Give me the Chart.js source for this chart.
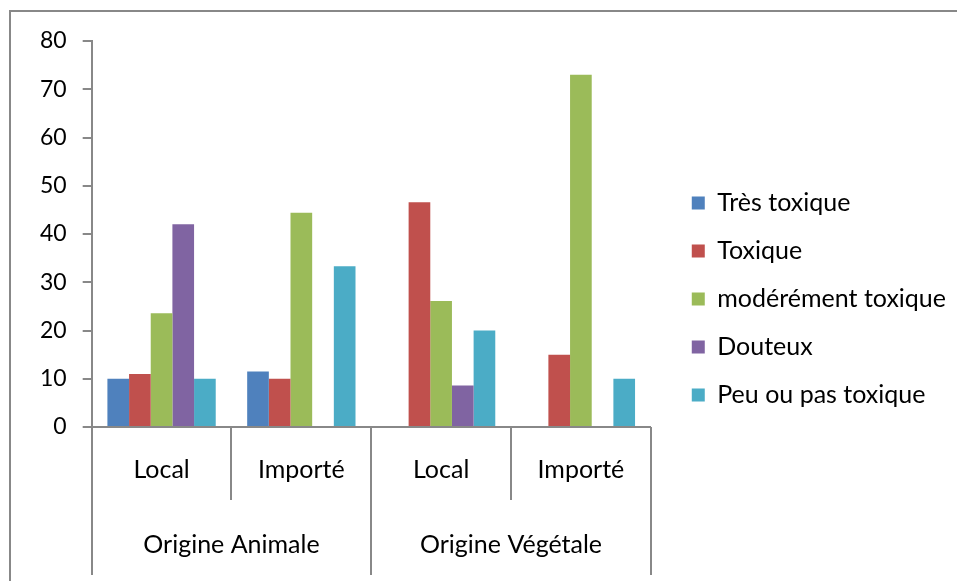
<!DOCTYPE html>
<html lang="fr">
<head>
<meta charset="utf-8">
<title>Toxicité par origine</title>
<script src="https://cdn.jsdelivr.net/npm/chart.js@4.4.0/dist/chart.umd.min.js"></script>
<style>
  html, body { margin: 0; padding: 0; background: #fff; }
  #cadre { width: 957px; height: 581px; position: relative; }
</style>
</head>
<body>
<div id="cadre"><canvas id="toxiciteChart"></canvas></div>
<script>
// Catégories de l'axe X (niveau 1 : provenance, niveau 2 : origine)
const provenances = ['Local', 'Importé', 'Local', 'Importé'];
const origines = ['Origine Animale', 'Origine Végétale'];

// Pourcentages par classe de toxicité
const tresToxique = [10, 11.5, null, null];
const toxique = [11, 10, 46.6, 15];
const moderementToxique = [23.6, 44.4, 26.1, 73];
const douteux = [42, null, 8.6, null];
const peuToxique = [10, 33.3, 20, 10];

const seriesNoms = ['Très toxique', 'Toxique', 'modérément toxique', 'Douteux', 'Peu ou pas toxique'];
const seriesCouleurs = ['#4F81BD', '#C0504D', '#9BBB59', '#8064A2', '#4BACC6'];

// Graduations de l'axe Y
const yMin = 0;
const yMax = 80;
const yPas = 10;

const POLICE = 'Lato, "Open Sans", sans-serif';
const GRIS = '#888888';

// Cadre du graphique + séparateurs et étiquettes du second niveau de l'axe X
const axeMultiNiveau = {
    id: 'axeMultiNiveau',
    afterDraw(chart) {
        const ctx = chart.ctx;
        const x = chart.scales.x;
        const bas = chart.chartArea.bottom;
        const largeur = x.width / provenances.length;

        ctx.save();
        ctx.strokeStyle = GRIS;
        ctx.lineWidth = 2;

        // Bordure haute et gauche
        ctx.beginPath();
        ctx.moveTo(10, chart.height);
        ctx.lineTo(10, 11);
        ctx.lineTo(chart.width, 11);
        ctx.stroke();

        // Séparateurs : courts entre provenances, longs entre origines
        ctx.beginPath();
        for (let i = 0; i <= provenances.length; i++) {
            const px = Math.round(x.left + i * largeur);
            const long = i % 2 === 0;
            ctx.moveTo(px, bas);
            ctx.lineTo(px, bas + (long ? 148 : 73));
        }
        ctx.stroke();

        // Libellés des origines
        ctx.fillStyle = '#000';
        ctx.font = '25px ' + POLICE;
        ctx.textAlign = 'center';
        ctx.textBaseline = 'middle';
        origines.forEach((nom, g) => {
            const cx = (x.getPixelForValue(2 * g) + x.getPixelForValue(2 * g + 1)) / 2;
            ctx.fillText(nom, cx, bas + 118);
        });
        ctx.restore();
    }
};

const valeurs = [tresToxique, toxique, moderementToxique, douteux, peuToxique];

new Chart(document.getElementById('toxiciteChart'), {
    type: 'bar',
    data: {
        labels: provenances,
        datasets: seriesNoms.map((nom, i) => ({
            label: nom,
            data: valeurs[i],
            backgroundColor: seriesCouleurs[i],
            borderWidth: 0,
            barPercentage: 1,
            categoryPercentage: 0.775
        }))
    },
    options: {
        responsive: true,
        maintainAspectRatio: false,
        animation: false,
        layout: {
            padding: { top: 17, right: 1, bottom: 0, left: 24 }
        },
        plugins: {
            legend: {
                position: 'right',
                align: 'center',
                maxWidth: 320,
                labels: {
                    color: '#000',
                    font: { family: POLICE, size: 25 },
                    boxWidth: 13,
                    boxHeight: 13,
                    padding: 23
                }
            },
            tooltip: { enabled: false }
        },
        scales: {
            x: {
                grid: { display: false, drawTicks: false },
                border: { display: true, color: GRIS, width: 2 },
                ticks: {
                    color: '#000',
                    font: { family: POLICE, size: 25 },
                    padding: 28,
                    maxRotation: 0
                },
                // Hauteur réservée aux deux niveaux de libellés
                afterFit(scale) { scale.height = 154; }
            },
            y: {
                min: yMin,
                max: yMax,
                ticks: {
                    stepSize: yPas,
                    color: '#000',
                    font: { family: POLICE, size: 23 },
                    padding: 16
                },
                grid: {
                    drawOnChartArea: false,
                    drawTicks: true,
                    tickLength: 9,
                    color: GRIS,
                    lineWidth: 2
                },
                border: { display: true, color: GRIS, width: 2 },
                // Marge haute sous la bordure du cadre
                afterFit(scale) { scale.paddingTop = 41; }
            },
            // Espace vide entre la zone de tracé et la légende
            ecart: {
                type: 'linear',
                position: 'right',
                display: true,
                grid: { display: false },
                ticks: { display: false },
                border: { display: false },
                afterFit(scale) { scale.width = 18; }
            }
        }
    },
    plugins: [axeMultiNiveau]
});
</script>
</body>
</html>
